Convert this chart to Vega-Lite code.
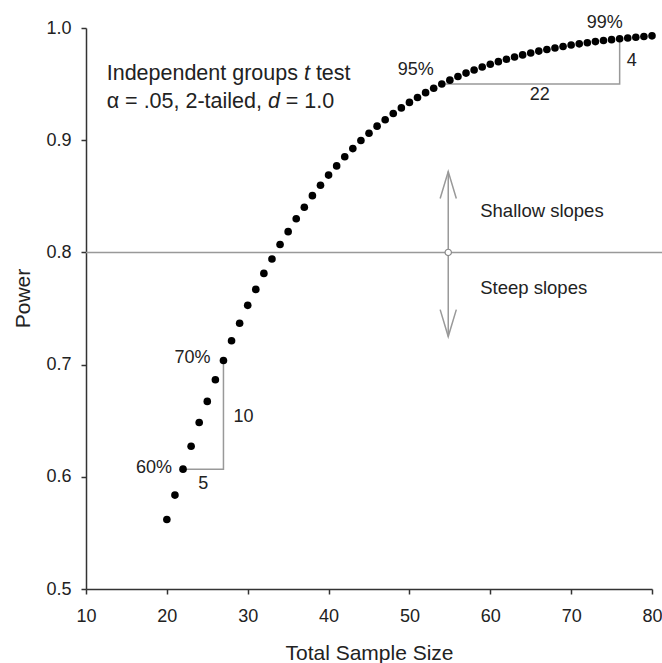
{
  "$schema": "https://vega.github.io/schema/vega-lite/v6.json",
  "width": 566,
  "height": 561,
  "autosize": {"type": "none"},
  "padding": {"left": 86, "top": 28, "right": 10, "bottom": 74},
  "background": "white",
  "config": {
    "view": {"stroke": null},
    "font": "Liberation Sans",
    "text": {"font": "Liberation Sans", "color": "#222222"},
    "axis": {"grid": false}
  },
  "datasets": {
    "power": [
      {"x": 20, "y": 0.562}, {"x": 21, "y": 0.5837}, {"x": 22, "y": 0.6068}, {"x": 23, "y": 0.6272},
      {"x": 24, "y": 0.6484}, {"x": 25, "y": 0.6672}, {"x": 26, "y": 0.6865}, {"x": 27, "y": 0.7037},
      {"x": 28, "y": 0.7213}, {"x": 29, "y": 0.7369}, {"x": 30, "y": 0.7528}, {"x": 31, "y": 0.767},
      {"x": 32, "y": 0.7813}, {"x": 33, "y": 0.7941}, {"x": 34, "y": 0.807}, {"x": 35, "y": 0.8185},
      {"x": 36, "y": 0.83}, {"x": 37, "y": 0.8403}, {"x": 38, "y": 0.8506}, {"x": 39, "y": 0.8598},
      {"x": 40, "y": 0.8689}, {"x": 41, "y": 0.8771}, {"x": 42, "y": 0.8852}, {"x": 43, "y": 0.8925},
      {"x": 44, "y": 0.8997}, {"x": 45, "y": 0.9062}, {"x": 46, "y": 0.9125}, {"x": 47, "y": 0.9182},
      {"x": 48, "y": 0.9238}, {"x": 49, "y": 0.9288}, {"x": 50, "y": 0.9337}, {"x": 51, "y": 0.9381},
      {"x": 52, "y": 0.9424}, {"x": 53, "y": 0.9463}, {"x": 54, "y": 0.9501}, {"x": 55, "y": 0.9535},
      {"x": 56, "y": 0.9568}, {"x": 57, "y": 0.9598}, {"x": 58, "y": 0.9626}, {"x": 59, "y": 0.9652},
      {"x": 60, "y": 0.9677}, {"x": 61, "y": 0.97}, {"x": 62, "y": 0.9721}, {"x": 63, "y": 0.9741},
      {"x": 64, "y": 0.976}, {"x": 65, "y": 0.9777}, {"x": 66, "y": 0.9794}, {"x": 67, "y": 0.9808},
      {"x": 68, "y": 0.9822}, {"x": 69, "y": 0.9835}, {"x": 70, "y": 0.9848}, {"x": 71, "y": 0.9859},
      {"x": 72, "y": 0.9869}, {"x": 73, "y": 0.9879}, {"x": 74, "y": 0.9888}, {"x": 75, "y": 0.9896},
      {"x": 76, "y": 0.9904}, {"x": 77, "y": 0.9911}, {"x": 78, "y": 0.9918}, {"x": 79, "y": 0.9924},
      {"x": 80, "y": 0.993}
    ],
    "segs": [
      {"g": "rule", "o": 1, "x": 10, "y": 0.8}, {"g": "rule", "o": 2, "x": 81.3, "y": 0.8},
      {"g": "b1", "o": 1, "x": 22, "y": 0.6068}, {"g": "b1", "o": 2, "x": 27, "y": 0.6068}, {"g": "b1", "o": 3, "x": 27, "y": 0.7037},
      {"g": "b2", "o": 1, "x": 54, "y": 0.9501}, {"g": "b2", "o": 2, "x": 76, "y": 0.9501}, {"g": "b2", "o": 3, "x": 76, "y": 0.9904},
      {"g": "shaft", "o": 1, "x": 54.8, "y": 0.725}, {"g": "shaft", "o": 2, "x": 54.8, "y": 0.872},
      {"g": "headUp", "o": 1, "x": 53.8, "y": 0.848}, {"g": "headUp", "o": 2, "x": 54.8, "y": 0.872}, {"g": "headUp", "o": 3, "x": 55.8, "y": 0.848},
      {"g": "headDown", "o": 1, "x": 53.8, "y": 0.749}, {"g": "headDown", "o": 2, "x": 54.8, "y": 0.725}, {"g": "headDown", "o": 3, "x": 55.8, "y": 0.749}
    ]
  },
  "encoding": {
    "x": {"field": "x", "type": "quantitative", "scale": {"domain": [10, 80], "nice": false, "zero": false},
      "axis": {"title": "Total Sample Size", "values": [10, 20, 30, 40, 50, 60, 70, 80], "grid": false, "labelFlush": false, "labelOverlap": false,
        "domainColor": "#333333", "domainWidth": 1.5, "tickColor": "#333333", "tickWidth": 1.5, "tickSize": 5,
        "labelFontSize": 18, "labelColor": "#222222", "labelPadding": 13, "labelFont": "Liberation Sans",
        "titleFontSize": 21, "titleFontWeight": "normal", "titleColor": "#222222", "titleFont": "Liberation Sans",
        "titleBaseline": "alphabetic", "titleY": 70}},
    "y": {"field": "y", "type": "quantitative", "scale": {"domain": [0.5, 1.0], "nice": false, "zero": false},
      "axis": {"title": "Power", "values": [0.5, 0.6, 0.7, 0.8, 0.9, 1.0], "format": ".1f", "grid": false, "labelFlush": false, "labelOverlap": false,
        "domainColor": "#333333", "domainWidth": 1.5, "tickColor": "#333333", "tickWidth": 1.5, "tickSize": 5,
        "labelFontSize": 18, "labelColor": "#222222", "labelPadding": 10, "labelFont": "Liberation Sans",
        "titleFontSize": 21, "titleFontWeight": "normal", "titleColor": "#222222", "titleFont": "Liberation Sans",
        "titleBaseline": "alphabetic", "titleAlign": "center", "titleAngle": -90, "titleX": -56.5, "titleY": 270}}
  },
  "layer": [
    {
      "data": {"name": "segs"},
      "mark": {"type": "line", "color": "#999999", "strokeWidth": 1.5},
      "encoding": {
        "detail": {"field": "g"},
        "order": {"field": "o"}
      }
    },
    {
      "data": {"name": "power"},
      "mark": {"type": "point", "filled": true, "color": "#000000", "size": 58, "opacity": 1}
    },
    {
      "data": {"values": [{"x": 54.8, "y": 0.8}]},
      "mark": {"type": "point", "filled": true, "fill": "white", "stroke": "#888888", "strokeWidth": 1.2, "size": 40, "opacity": 1}
    },
    {
      "data": {"values": [{"t": "60%", "x": 22, "y": 0.6068}]},
      "mark": {"type": "text", "fontSize": 18, "align": "right", "baseline": "middle", "dx": -11, "dy": -1},
      "encoding": {"text": {"field": "t"}}
    },
    {
      "data": {"values": [{"t": "70%", "x": 27, "y": 0.7037}]},
      "mark": {"type": "text", "fontSize": 18, "align": "right", "baseline": "middle", "dx": -13, "dy": -2},
      "encoding": {"text": {"field": "t"}}
    },
    {
      "data": {"values": [{"t": "95%", "x": 54, "y": 0.9501}]},
      "mark": {"type": "text", "fontSize": 18, "align": "right", "baseline": "middle", "dx": -8, "dy": -14},
      "encoding": {"text": {"field": "t"}}
    },
    {
      "data": {"values": [{"t": "99%", "x": 76, "y": 0.9904}]},
      "mark": {"type": "text", "fontSize": 18, "align": "center", "baseline": "middle", "dx": -15, "dy": -16},
      "encoding": {"text": {"field": "t"}}
    },
    {
      "data": {"values": [{"t": "5", "x": 24.5, "y": 0.6068}]},
      "mark": {"type": "text", "fontSize": 18, "align": "center", "baseline": "middle", "dy": 15},
      "encoding": {"text": {"field": "t"}}
    },
    {
      "data": {"values": [{"t": "10", "x": 27, "y": 0.6553}]},
      "mark": {"type": "text", "fontSize": 18, "align": "left", "baseline": "middle", "dx": 10, "dy": 2},
      "encoding": {"text": {"field": "t"}}
    },
    {
      "data": {"values": [{"t": "22", "x": 65, "y": 0.9501}]},
      "mark": {"type": "text", "fontSize": 18, "align": "center", "baseline": "middle", "dx": 9, "dy": 11},
      "encoding": {"text": {"field": "t"}}
    },
    {
      "data": {"values": [{"t": "4", "x": 76, "y": 0.97025}]},
      "mark": {"type": "text", "fontSize": 18, "align": "left", "baseline": "middle", "dx": 7},
      "encoding": {"text": {"field": "t"}}
    },
    {
      "data": {"values": [{"t": "Shallow slopes", "x": 54.8, "y": 0.8}]},
      "mark": {"type": "text", "fontSize": 18.5, "align": "left", "baseline": "middle", "dx": 32, "dy": -41},
      "encoding": {"text": {"field": "t"}}
    },
    {
      "data": {"values": [{"t": "Steep slopes", "x": 54.8, "y": 0.8}]},
      "mark": {"type": "text", "fontSize": 18.5, "align": "left", "baseline": "middle", "dx": 32, "dy": 36},
      "encoding": {"text": {"field": "t"}}
    },
    {
      "data": {"values": [{"t": "Independent groups", "x": 10, "y": 0.959}]},
      "mark": {"type": "text", "fontSize": 21.5, "align": "left", "baseline": "middle", "dx": 20.7},
      "encoding": {"text": {"field": "t"}}
    },
    {
      "data": {"values": [{"t": "t", "x": 10, "y": 0.959}]},
      "mark": {"type": "text", "fontSize": 21.5, "fontStyle": "italic", "align": "left", "baseline": "middle", "dx": 217.9},
      "encoding": {"text": {"field": "t"}}
    },
    {
      "data": {"values": [{"t": "test", "x": 10, "y": 0.959}]},
      "mark": {"type": "text", "fontSize": 21.5, "align": "left", "baseline": "middle", "dx": 229.9},
      "encoding": {"text": {"field": "t"}}
    },
    {
      "data": {"values": [{"t": "α = .05, 2-tailed,", "x": 10, "y": 0.9343}]},
      "mark": {"type": "text", "fontSize": 21.5, "align": "left", "baseline": "middle", "dx": 20.7},
      "encoding": {"text": {"field": "t"}}
    },
    {
      "data": {"values": [{"t": "d", "x": 10, "y": 0.9343}]},
      "mark": {"type": "text", "fontSize": 21.5, "fontStyle": "italic", "align": "left", "baseline": "middle", "dx": 181.9},
      "encoding": {"text": {"field": "t"}}
    },
    {
      "data": {"values": [{"t": "= 1.0", "x": 10, "y": 0.9343}]},
      "mark": {"type": "text", "fontSize": 21.5, "align": "left", "baseline": "middle", "dx": 199.8},
      "encoding": {"text": {"field": "t"}}
    }
  ]
}
